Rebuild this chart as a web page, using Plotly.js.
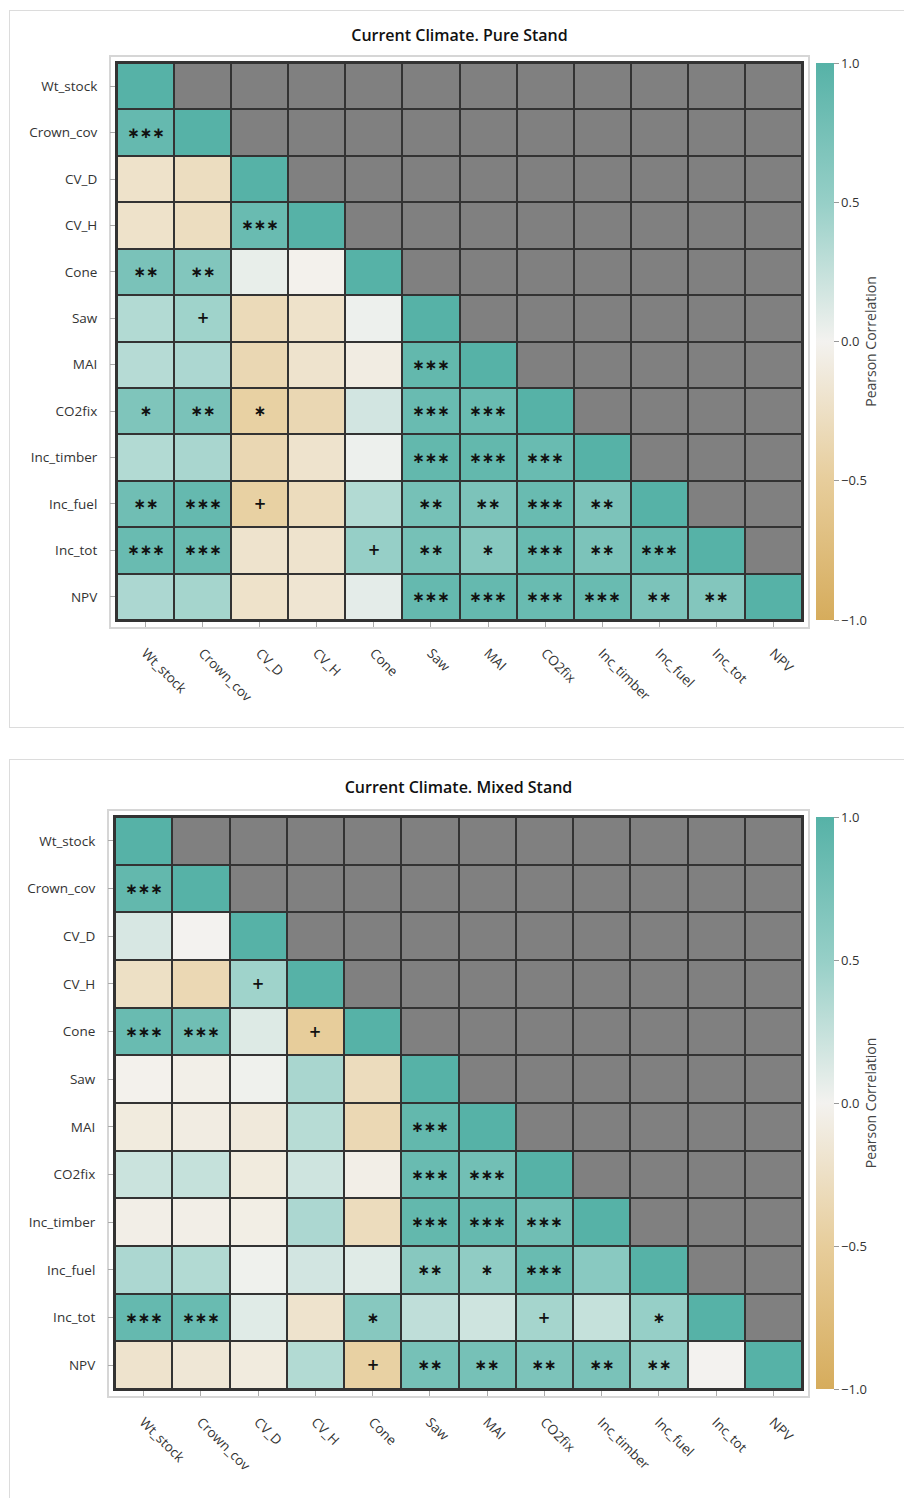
<!DOCTYPE html>
<html>
<head>
<meta charset="utf-8">
<script src="https://cdn.plot.ly/plotly-3.0.1.min.js"></script>
<style>
  html, body { margin:0; padding:0; background:#fff; width:904px; height:1498px; overflow:hidden; }
  .panel { position:absolute; left:9px; border:1.5px solid #dcdcdc; box-sizing:border-box; }
  .chart { position:absolute; left:0; width:904px; }
</style>
</head>
<body>
<div class="panel" style="top:10px; width:920px; height:718px;"></div>
<div class="panel" style="top:759px; width:920px; height:760px;"></div>
<div id="top" class="chart" style="top:0px; height:740px;"></div>
<div id="bottom" class="chart" style="top:746px; height:752px;"></div>
<script>
// ---------------- DATA ----------------
const variables = ["Wt_stock","Crown_cov","CV_D","CV_H","Cone","Saw","MAI","CO2fix","Inc_timber","Inc_fuel","Inc_tot","NPV"];

// lower-triangle Pearson correlations (row i, columns 0..i)
const pureValues = [
  [1],
  [0.88, 1],
  [-0.22, -0.28, 1],
  [-0.22, -0.28, 0.85, 1],
  [0.72, 0.66, 0.06, -0.02, 1],
  [0.35, 0.45, -0.32, -0.22, 0.03, 1],
  [0.33, 0.38, -0.36, -0.2, -0.08, 0.9, 1],
  [0.68, 0.72, -0.45, -0.36, 0.18, 0.85, 0.85, 1],
  [0.35, 0.4, -0.36, -0.2, 0.03, 0.9, 0.9, 0.85, 1],
  [0.8, 0.88, -0.45, -0.3, 0.35, 0.75, 0.7, 0.85, 0.7, 1],
  [0.85, 0.85, -0.2, -0.2, 0.5, 0.75, 0.62, 0.85, 0.7, 0.88, 1],
  [0.38, 0.42, -0.22, -0.17, 0.08, 0.88, 0.88, 0.85, 0.85, 0.7, 0.65, 1]
];
const pureSignif = [
  [""],
  ["***", ""],
  ["", "", ""],
  ["", "", "***", ""],
  ["**", "**", "", "", ""],
  ["", "+", "", "", "", ""],
  ["", "", "", "", "", "***", ""],
  ["*", "**", "*", "", "", "***", "***", ""],
  ["", "", "", "", "", "***", "***", "***", ""],
  ["**", "***", "+", "", "", "**", "**", "***", "**", ""],
  ["***", "***", "", "", "+", "**", "*", "***", "**", "***", ""],
  ["", "", "", "", "", "***", "***", "***", "***", "**", "**", ""]
];

const mixedValues = [
  [1],
  [0.9, 1],
  [0.15, 0.0, 1],
  [-0.25, -0.35, 0.45, 1],
  [0.85, 0.8, 0.12, -0.5, 1],
  [-0.02, -0.04, 0.02, 0.4, -0.3, 1],
  [-0.1, -0.08, -0.12, 0.32, -0.35, 0.9, 1],
  [0.22, 0.25, -0.1, 0.2, -0.05, 0.85, 0.78, 1],
  [-0.05, -0.05, -0.06, 0.38, -0.3, 0.9, 0.88, 0.8, 1],
  [0.38, 0.35, 0.02, 0.18, 0.1, 0.62, 0.55, 0.85, 0.6, 1],
  [0.88, 0.85, 0.1, -0.2, 0.62, 0.28, 0.2, 0.42, 0.25, 0.5, 1],
  [-0.2, -0.15, -0.1, 0.35, -0.45, 0.75, 0.75, 0.7, 0.72, 0.55, 0.0, 1]
];
const mixedSignif = [
  [""],
  ["***", ""],
  ["", "", ""],
  ["", "", "+", ""],
  ["***", "***", "", "+", ""],
  ["", "", "", "", "", ""],
  ["", "", "", "", "", "***", ""],
  ["", "", "", "", "", "***", "***", ""],
  ["", "", "", "", "", "***", "***", "***", ""],
  ["", "", "", "", "", "**", "*", "***", "", ""],
  ["***", "***", "", "", "*", "", "", "+", "", "*", ""],
  ["", "", "", "", "+", "**", "**", "**", "**", "**", "", ""]
];

const colorbarTicks = [-1, -0.5, 0, 0.5, 1];
const colorbarTitle = "Pearson Correlation";
const titles = ["Current Climate. Pure Stand", "Current Climate. Mixed Stand"];

// ---------------- STYLE ----------------
const corrScale = [
  [0.0, "#D6AC5C"],
  [0.25, "#E7CD9B"],
  [0.5, "#F3F2EF"],
  [0.75, "#96CFC7"],
  [1.0, "#56B2A7"]
];
const FONT = "Open Sans, Liberation Sans, sans-serif";

function build(divId, values, signif, title, geom) {
  const n = variables.length;
  const z = [], txt = [], mask = [];
  for (let i = 0; i < n; i++) {
    const zr = [], tr = [], mr = [];
    for (let j = 0; j < n; j++) {
      if (j <= i) {
        zr.push(values[i][j]);
        tr.push(signif[i][j].replace(/\*/g, "\u2217"));
        mr.push(null);
      } else {
        zr.push(null);
        tr.push("");
        mr.push(1);
      }
    }
    z.push(zr); txt.push(tr); mask.push(mr);
  }
  const traces = [
    {
      type: "heatmap", x: variables, y: variables, z: mask,
      colorscale: [[0, "#808080"], [1, "#808080"]], showscale: false,
      xgap: 2, ygap: 2, hoverinfo: "skip"
    },
    {
      type: "heatmap", x: variables, y: variables, z: z,
      text: txt, texttemplate: "%{text}",
      textfont: { family: "DejaVu Sans", size: 15, weight: "bold", color: "#111" },
      colorscale: corrScale, zmin: -1, zmax: 1,
      xgap: 2, ygap: 2,
      colorbar: {
        x: geom.cbx, xanchor: "left", xpad: 0, y: 0.5, yanchor: "middle",
        len: 1.0, lenmode: "fraction", thickness: 18, ypad: 0,
        outlinewidth: 0,
        tickvals: colorbarTicks, tickformat: ".1f",
        ticks: "outside", ticklen: 5, tickcolor: "#999",
        tickfont: { family: FONT, size: 13, color: "#333" },
        title: { text: colorbarTitle, side: "right", font: { family: FONT, size: 14, color: "#444" } }
      }
    }
  ];
  const layout = {
    width: 904, height: geom.h,
    margin: { l: geom.l, r: geom.r, t: geom.t, b: geom.b, pad: 0 },
    paper_bgcolor: "rgba(0,0,0,0)",
    plot_bgcolor: "#333333",
    title: {
      text: title, x: 0.5, xref: "paper", xanchor: "center",
      y: geom.ty, yref: "container", yanchor: "middle",
      font: { family: FONT, size: 16, weight: 600, color: "#111" }
    },
    xaxis: {
      type: "category", tickangle: 45, ticks: "outside", ticklen: 5, tickcolor: "#aaa",
      ticklabelstandoff: 13,
      tickfont: { family: FONT, size: 13.5, color: "#333" },
      showgrid: false, zeroline: false, showline: true, mirror: true,
      linecolor: "#333", linewidth: 2, fixedrange: true
    },
    yaxis: {
      type: "category", autorange: "reversed", ticks: "outside", ticklen: 5, tickcolor: "#aaa",
      ticklabelstandoff: 10,
      tickfont: { family: FONT, size: 13.5, color: "#333" },
      showgrid: false, zeroline: false, showline: true, mirror: true,
      linecolor: "#333", linewidth: 2, fixedrange: true
    },
    shapes: [{
      type: "rect", xref: "paper", yref: "paper",
      x0: -7 / geom.pw, x1: 1 + 7 / geom.pw, y0: -8 / geom.ph, y1: 1 + 7 / geom.ph,
      line: { color: "#d6d6d6", width: 2 }, fillcolor: "rgba(0,0,0,0)", layer: "below"
    }]
  };
  Plotly.newPlot(divId, traces, layout, { displayModeBar: false, staticPlot: true });
}

build("top", pureValues, pureSignif, titles[0],
  { h: 740, l: 117, r: 102, t: 63, b: 120, pw: 685, ph: 557, cbx: 1.0204, ty: 1 - 35 / 740 });
build("bottom", mixedValues, mixedSignif, titles[1],
  { h: 752, l: 115, r: 102, t: 71, b: 109, pw: 687, ph: 572, cbx: 1.0204, ty: 1 - 41 / 752 });
</script>
</body>
</html>
